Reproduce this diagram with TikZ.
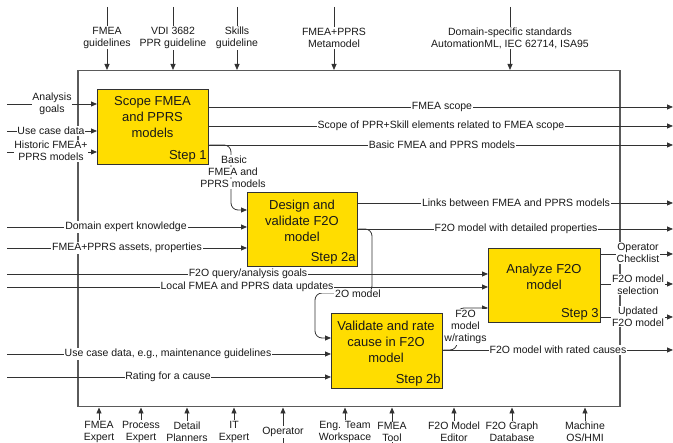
\documentclass[tikz,border=0pt]{standalone}
\usepackage{fontspec}
\setmainfont{Liberation Sans}
\usetikzlibrary{arrows.meta}
\definecolor{boxy}{RGB}{255,221,0}
\definecolor{lnc}{RGB}{50,50,50}
\definecolor{frm}{RGB}{90,90,90}
\definecolor{txt}{RGB}{25,25,25}
\begin{document}
\begin{tikzpicture}[x=1pt,y=-1pt,
 lab/.style={fill=white, inner sep=0.8pt, align=center, font=\fontsize{10.5}{12}\selectfont, text=txt},
 procbox/.style={draw=lnc, fill=boxy, line width=1.3pt, inner sep=0pt, anchor=north west},
 boxtxt/.style={align=center, font=\fontsize{13}{16}\selectfont, text=txt},
 steplab/.style={anchor=south east, font=\fontsize{13}{16}\selectfont, text=txt, inner sep=2.5pt},
 arr/.style={draw=lnc, line width=0.8pt, -{Triangle[length=6pt,width=5pt]}},
 rc/.style={rounded corners=7pt}]
\useasboundingbox (0,0) rectangle (673,443);
% frame
\node[draw=frm, line width=1.5pt, minimum width=542, minimum height=336, anchor=north west, inner sep=0pt] (frame) at (77,70) {};
% process boxes
\node[procbox, minimum width=111, minimum height=75] (s1) at (97,89) {};
\node[procbox, minimum width=110, minimum height=74] (s2a) at (247,192) {};
\node[procbox, minimum width=112, minimum height=74] (s3) at (488,248) {};
\node[procbox, minimum width=111, minimum height=75] (s2b) at (331,313) {};
% top controls
\coordinate (t1) at (107,7);
\coordinate (t2) at (173,7);
\coordinate (t3) at (237,7);
\coordinate (t4) at (334,7);
\coordinate (t5) at (510,7);
\foreach \c in {t1,t2,t3,t4,t5} \draw[arr] (\c) -- (\c |- frame.north);
\node[lab] (lt1) at (107,38) {FMEA\\guidelines};
\node[lab] (lt2) at (173,38) {VDI 3682\\PPR guideline};
\node[lab] (lt3) at (237,38) {Skills\\guideline};
\node[lab] (lt4) at (334,38) {FMEA+PPRS\\Metamodel};
\node[lab] (lt5) at (510,38) {Domain-specific standards\\AutomationML, IEC 62714, ISA95};
% bottom mechanisms
\coordinate (b1) at (99,443);
\coordinate (b2) at (141,443);
\coordinate (b3) at (187,443);
\coordinate (b4) at (234,443);
\coordinate (b5) at (283,443);
\coordinate (b6) at (345,443);
\coordinate (b7) at (392,443);
\coordinate (b8) at (454,443);
\coordinate (b9) at (512,443);
\coordinate (b10) at (585,443);
\foreach \c in {b1,b2,b3,b4,b5,b6,b7,b8,b9,b10} \draw[arr] (\c) -- (\c |- frame.south);
\node[lab] (lb1) at (99,432) {FMEA\\Expert};
\node[lab] (lb2) at (141,432) {Process\\Expert};
\node[lab] (lb3) at (187,432) {Detail\\Planners};
\node[lab] (lb4) at (234,432) {IT\\Expert};
\node[lab] (lb5) at (283,432) {Operator};
\node[lab] (lb6) at (345,432) {Eng. Team\\Workspace};
\node[lab] (lb7) at (392,432) {FMEA\\Tool};
\node[lab] (lb8) at (454,432) {F2O Model\\Editor};
\node[lab] (lb9) at (512,432) {F2O Graph\\Database};
\node[lab] (lb10) at (585,432) {Machine\\OS/HMI};
% inputs to step 1
\coordinate (i1) at (7,104);
\coordinate (i2) at (7,131);
\coordinate (i3) at (7,152);
\foreach \c in {i1,i2,i3} \draw[arr] (\c) -- (\c -| s1.west);
% outputs of step 1
\coordinate (o1) at (673,107);
\coordinate (o2) at (673,126);
\coordinate (o3) at (673,145);
\foreach \c in {o1,o2,o3} \draw[arr] (\c -| s1.east) -- (\c);
\coordinate (k1) at (231,145);
\coordinate (k2) at (231,210);
\draw[arr, rc] (o3 -| s1.east) -- (k1) -- (k2) -- (k2 -| s2a.west);
% inputs to step 2a
\coordinate (i4) at (7,227);
\coordinate (i5) at (7,248);
\foreach \c in {i4,i5} \draw[arr] (\c) -- (\c -| s2a.west);
% outputs of step 2a
\coordinate (o4) at (673,203);
\coordinate (o5) at (673,229);
\foreach \c in {o4,o5} \draw[arr] (\c -| s2a.east) -- (\c);
\coordinate (k3) at (372,229);
\coordinate (k4) at (372,293);
\coordinate (k5) at (315,293);
\coordinate (k6) at (315,338);
\draw[arr, rc] (o5 -| s2a.east) -- (k3) -- (k4) -- (k5) -- (k6) -- (k6 -| s2b.west);
% inputs to step 3
\coordinate (i6) at (7,274);
\coordinate (i7) at (7,287);
\foreach \c in {i6,i7} \draw[arr] (\c) -- (\c -| s3.west);
% outputs of step 3
\coordinate (o6) at (673,254);
\coordinate (o7) at (673,284);
\coordinate (o8) at (673,317);
\foreach \c in {o6,o7,o8} \draw[arr] (\c -| s3.east) -- (\c);
% inputs to step 2b
\coordinate (i8) at (7,354);
\coordinate (i9) at (7,377);
\foreach \c in {i8,i9} \draw[arr] (\c) -- (\c -| s2b.west);
% output of step 2b
\coordinate (o9) at (673,350);
\draw[arr] (o9 -| s2b.east) -- (o9);
\coordinate (k7) at (457,350);
\coordinate (k8) at (457,308);
\draw[arr, rc] (o9 -| s2b.east) -- (k7) -- (k8) -- (k8 -| s3.west);
% box texts
\node[boxtxt] (x1) at (152.5,117) {Scope FMEA\\and PPRS\\models};
\node[boxtxt] (x2a) at (302,221) {Design and\\validate F2O\\model};
\node[boxtxt] (x3) at (544,277) {Analyze F2O\\model};
\node[boxtxt] (x2b) at (386,342) {Validate and rate\\cause in F2O\\model};
% labels on connectors
\node[lab] (l1) at (52,104) {Analysis\\goals};
\node[lab] (l2) at (51,131) {Use case data};
\node[lab] (l3) at (51,151) {Historic FMEA+\\PPRS models};
\node[lab] (l4) at (442,107) {FMEA scope};
\node[lab] (l5) at (441,126) {Scope of PPR+Skill elements related to FMEA scope};
\node[lab] (l6) at (442,145) {Basic FMEA and PPRS models};
\node[lab] (l7a) at (234,160) {Basic};
\node[lab] (l7b) at (233,172) {FMEA and};
\node[lab] (l7c) at (233,184) {PPRS models};
\node[lab] (l8) at (126,227) {Domain expert knowledge};
\node[lab] (l9) at (127,248) {FMEA+PPRS assets, properties};
\node[lab] (l10) at (516,203) {Links between FMEA and PPRS models};
\node[lab] (l11) at (516,229) {F2O model with detailed properties};
\node[lab] (l12) at (248,274) {F2O query/analysis goals};
\node[lab] (l13) at (247,287) {Local FMEA and PPRS data updates};
\node[lab] (l14) at (358,294) {2O model};
\node[lab] (l15) at (638,253) {Operator\\Checklist};
\node[lab] (l16) at (638,284.5) {F2O model\\selection};
\node[lab] (l17) at (638,316.5) {Updated\\F2O model};
\node[lab, inner xsep=0.4pt] (l18) at (465.5,327) {F2O\\model\\w/ratings};
\node[lab] (l19) at (558,350) {F2O model with rated causes};
\node[lab] (l20) at (168,354) {Use case data, e.g., maintenance guidelines};
\node[lab] (l21) at (168,377) {Rating for a cause};
% step labels
\node[steplab] (n1) at (s1.south east) {Step 1};
\node[steplab] (n2a) at (s2a.south east) {Step 2a};
\node[steplab] (n3) at (s3.south east) {Step 3};
\node[steplab] (n2b) at (s2b.south east) {Step 2b};
\end{tikzpicture}
\end{document}
